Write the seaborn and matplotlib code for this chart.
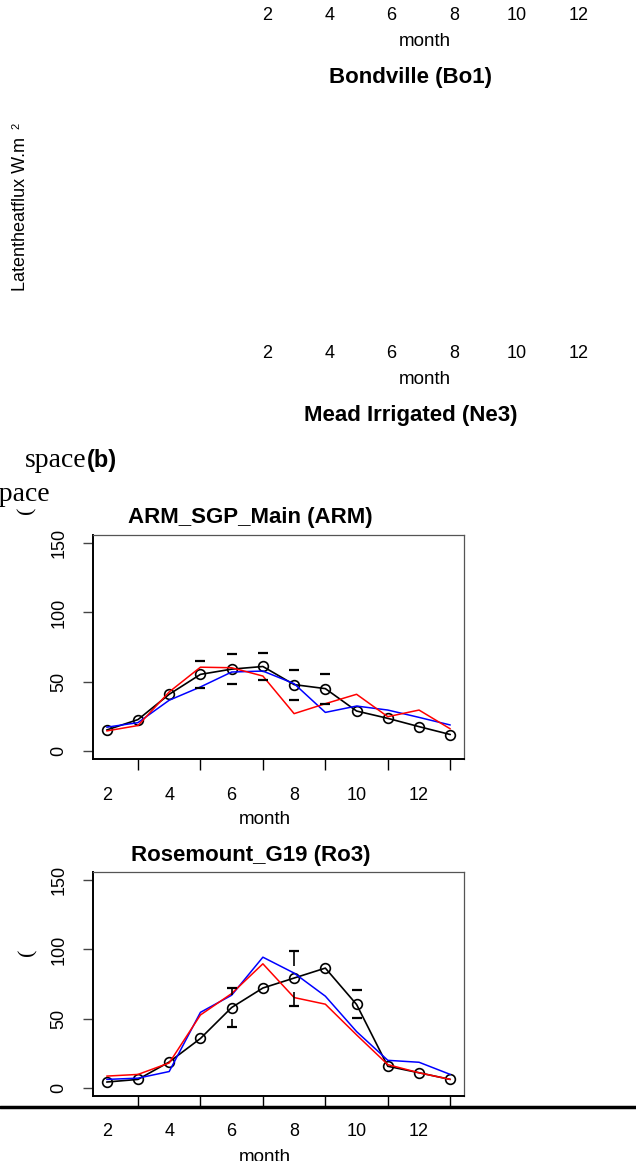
import numpy as np
import pandas as pd
import matplotlib
matplotlib.use('Agg')
import matplotlib.pyplot as plt
import seaborn as sns
from matplotlib.lines import Line2D

sns.set_style('ticks')
plt.rcParams['font.family'] = ['Liberation Sans', 'DejaVu Sans']
plt.rcParams['text.color'] = 'black'
plt.rcParams['xtick.color'] = 'black'
plt.rcParams['ytick.color'] = 'black'
plt.rcParams['axes.labelcolor'] = 'black'

# figure size in pixels
W, H = 636, 1161

# data
months = list(range(1, 13))
tick_months = [2, 4, 6, 8, 10, 12]
y_ticks = [0, 50, 100, 150]

# ARM_SGP_Main (ARM)
arm_obs = [15.0, 22.5, 40.8, 55.2, 59.0, 60.9, 47.8, 44.9, 28.7, 23.4, 17.4, 11.7]
arm_red = [14.3, 18.2, 42.5, 60.4, 60.0, 54.0, 26.8, 34.0, 40.8, 24.6, 29.4, 15.8]
arm_blue = [17.0, 20.3, 36.5, 46.1, 56.9, 57.6, 48.5, 27.7, 32.3, 29.4, 24.1, 18.6]
arm_err_month = [4, 5, 6, 7, 8]
arm_err_hi = [65.2, 69.9, 70.9, 58.5, 55.3]
arm_err_lo = [45.3, 48.0, 51.3, 36.5, 34.1]
arm_whisk_hi = [64.8, 69.5, 70.5, 58.1, 54.9]
arm_whisk_lo = [45.7, 48.4, 51.7, 36.9, 34.5]

# Rosemount_G19 (Ro3)
ro3_obs = [4.1, 6.0, 18.6, 35.6, 58.0, 72.1, 79.3, 86.5, 60.2, 15.5, 10.8, 6.0]
ro3_red = [8.4, 9.6, 17.9, 52.6, 68.1, 89.6, 65.2, 60.4, 38.2, 16.7, 10.8, 6.0]
ro3_blue = [6.0, 6.9, 11.7, 54.5, 66.9, 94.4, 82.9, 66.2, 40.6, 19.8, 18.4, 9.6]
ro3_err_month = [5, 7, 9]
ro3_err_hi = [72.3, 99.0, 70.9]
ro3_err_lo = [44.1, 59.1, 50.1]
ro3_whisk_hi = [66.8, 88.3, 70.4]
ro3_whisk_lo = [49.4, 69.2, 50.6]


def rect(left, top, right, bottom):
    return [left / W, 1 - bottom / H, (right - left) / W, (bottom - top) / H]


def panel_text(ax, title=None):
    # tick labels sit one month to the left of their tick marks
    for t in tick_months:
        ax.text(t - 1, -36 / 224, str(t), transform=ax.get_xaxis_transform(),
                ha='center', va='center', fontsize=13)
    ax.text(0.462, -61 / 224, 'month', transform=ax.transAxes,
            ha='center', va='center', fontsize=13.5)
    if title:
        ax.text(0.4245, 1 + 17 / 224, title, transform=ax.transAxes,
                ha='center', va='center', fontsize=16, fontweight='bold')


def site_panel(ax, obs, red, blue, em, hi, lo, whi, wlo, title):
    sns.lineplot(x=months, y=obs, ax=ax, color='black', lw=1.2, marker='o',
                 markersize=7, markerfacecolor='none', markeredgecolor='black',
                 markeredgewidth=1.2)
    sns.lineplot(x=months, y=blue, ax=ax, color='blue', lw=1.1)
    sns.lineplot(x=months, y=red, ax=ax, color='red', lw=1.1)
    em = np.array(em)
    ax.vlines(em, hi, whi, color='black', lw=1.2)
    ax.vlines(em, lo, wlo, color='black', lw=1.2)
    ax.hlines(hi, em - 0.16, em + 0.16, color='black', lw=1.6)
    ax.hlines(lo, em - 0.16, em + 0.16, color='black', lw=1.6)

    ax.set_xlim(0.56, 12.44)
    ax.set_ylim(-6, 156)
    ax.set_xticks(tick_months)
    ax.set_xticklabels([])
    ax.set_yticks(y_ticks)
    ax.set_yticklabels([str(v) for v in y_ticks], rotation=90, va='center')
    ax.tick_params(axis='x', length=8, width=1, color='black')
    ax.tick_params(axis='y', length=7.5, width=1, pad=11, labelsize=13, color='#444444')
    ax.set_xlabel('')
    ax.set_ylabel('')
    for side in ['left', 'bottom']:
        ax.spines[side].set_linewidth(1.4)
        ax.spines[side].set_color('black')
    for side in ['top', 'right']:
        ax.spines[side].set_linewidth(0.9)
        ax.spines[side].set_color('#555555')
    panel_text(ax, title)


fig = plt.figure(figsize=(W / 100, H / 100), dpi=100)

# right-column panels: only their texts are left on the page
ax_top = fig.add_axes(rect(253, -244, 624, -20))
ax_top.set_xlim(0.56, 12.44)
ax_top.set_axis_off()
panel_text(ax_top)

ax_bo1 = fig.add_axes(rect(253, 94, 624, 318))
ax_bo1.set_xlim(0.56, 12.44)
ax_bo1.set_axis_off()
panel_text(ax_bo1, 'Bondville (Bo1)')

ax_ne3 = fig.add_axes(rect(253, 432, 624, 656))
ax_ne3.set_axis_off()
ax_ne3.text(0.4245, 1 + 17 / 224, 'Mead Irrigated (Ne3)', transform=ax_ne3.transAxes,
            ha='center', va='center', fontsize=16, fontweight='bold')

fig.text(21 / W, 1 - 214 / H, 'Latentheatflux W.m', rotation=90,
         ha='center', va='center', fontsize=13)
fig.text(16 / W, 1 - 126 / H, '2', rotation=90, ha='center', va='center', fontsize=8)

# left-column panels with data
ax_arm = fig.add_axes(rect(93, 535, 464, 759))
site_panel(ax_arm, arm_obs, arm_red, arm_blue, arm_err_month, arm_err_hi, arm_err_lo,
           arm_whisk_hi, arm_whisk_lo, 'ARM_SGP_Main (ARM)')

ax_ro3 = fig.add_axes(rect(93, 872, 464, 1096))
site_panel(ax_ro3, ro3_obs, ro3_red, ro3_blue, ro3_err_month, ro3_err_hi, ro3_err_lo,
           ro3_whisk_hi, ro3_whisk_lo, 'Rosemount_G19 (Ro3)')

# stray label fragments
fig.text(25 / W, 1 - 467 / H, 'space', family='Liberation Serif', fontsize=20, va='baseline')
fig.text(87 / W, 1 - 467 / H, '(b)', fontsize=17, fontweight='bold', va='baseline')
fig.text(-11 / W, 1 - 501 / H, 'space', family='Liberation Serif', fontsize=20, va='baseline')
fig.text(27 / W, 1 - 510 / H, '(', family='Liberation Serif', fontsize=16, rotation=90,
         ha='center', va='center')
fig.text(28 / W, 1 - 952 / H, '(', family='Liberation Serif', fontsize=16, rotation=90,
         ha='center', va='center')

fig.add_artist(Line2D([0, 1], [1 - 1107 / H] * 2, transform=fig.transFigure,
                      color='black', lw=2.5))

fig.savefig('out.png', dpi=100)
